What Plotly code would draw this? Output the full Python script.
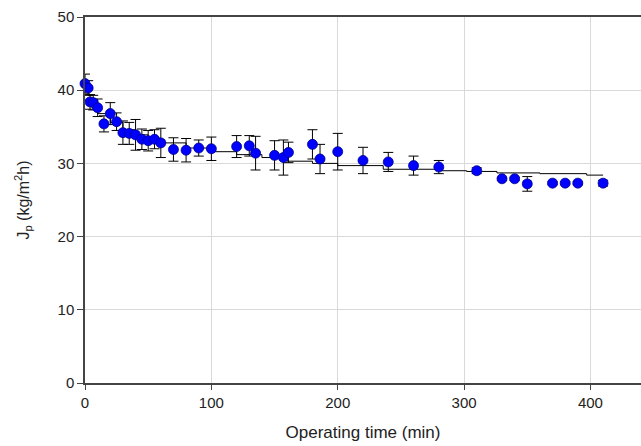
import plotly.graph_objects as go

time_min = [0, 2.5, 4, 6.5, 10, 15, 20, 25, 30, 35, 40, 45, 50, 55, 60,
            70, 80, 90, 100, 120, 130, 135, 150, 157, 161, 180, 186, 200,
            220, 240, 260, 280, 310, 330, 340, 350, 370, 380, 390, 410]
flux = [40.9, 40.3, 38.4, 38.3, 37.6, 35.4, 36.8, 35.7, 34.2, 34.1, 33.9, 33.3, 33.1, 33.3, 32.8,
        31.9, 31.8, 32.1, 32.0, 32.3, 32.4, 31.4, 31.1, 30.8, 31.5, 32.6, 30.6, 31.6,
        30.4, 30.2, 29.7, 29.5, 29.0, 27.9, 27.9, 27.2, 27.3, 27.3, 27.3, 27.3]
flux_err = [1.3, 1.0, 1.0, 1.0, 1.2, 1.1, 1.5, 1.2, 1.6, 1.5, 2.1, 1.4, 1.4, 1.3, 2.0,
            1.6, 1.6, 1.1, 1.6, 1.5, 1.4, 2.3, 2.0, 2.4, 1.4, 2.0, 2.0, 2.5,
            1.8, 1.3, 1.3, 0.9, 0.4, 0.2, 0.2, 1.0, 0.2, 0.2, 0.2, 0.4]

fit_time = [0, 10, 20, 30, 40, 50, 60, 80, 100, 120, 140, 160, 180, 200,
            236, 281, 302, 326, 360, 397, 410]
fit_flux = [38.6, 36.8, 35.6, 34.6, 33.9, 33.3, 32.8, 32.1, 31.6, 31.2, 30.8, 30.3, 30.0, 29.7,
            29.2, 29.0, 28.9, 28.7, 28.6, 28.4, 28.4]

fig = go.Figure()
fig.add_trace(go.Scatter(
    x=fit_time, y=fit_flux, mode="lines",
    line=dict(color="black", width=1, shape="hv"),
    showlegend=False, hoverinfo="skip", cliponaxis=False))
fig.add_trace(go.Scatter(
    x=time_min, y=flux, mode="markers", cliponaxis=False,
    marker=dict(color="#0000ff", size=10, line=dict(color="#00008b", width=0.8)),
    error_y=dict(type="data", array=flux_err, color="black", thickness=1, width=5),
    showlegend=False))

fig.update_layout(
    width=641, height=446,
    margin=dict(l=85, r=0, t=17, b=63),
    plot_bgcolor="white", paper_bgcolor="white",
    font=dict(family="Liberation Sans, Arial, sans-serif", color="#222222", size=15),
    xaxis=dict(
        range=[0, 440], tickvals=[0, 100, 200, 300, 400],
        showgrid=True, gridcolor="#d9d9d9", gridwidth=1,
        showline=True, linecolor="#444444", linewidth=1.5, mirror=True,
        ticks="outside", ticklen=5, tickcolor="#444444",
        zeroline=False,
        title=dict(text="Operating time (min)", font=dict(size=17, color="#222222"), standoff=16),
        tickfont=dict(size=15),
    ),
    yaxis=dict(
        range=[0, 50], tickvals=[0, 10, 20, 30, 40, 50],
        showgrid=True, gridcolor="#d9d9d9", gridwidth=1,
        showline=True, linecolor="#444444", linewidth=1.5,
        ticks="outside", ticklen=6, tickcolor="#444444",
        zeroline=False,
        title=dict(text="J<sub>p</sub> (kg/m<sup>2</sup>h)", font=dict(size=16, color="#222222"), standoff=24),
        tickfont=dict(size=15),
    ),
)

fig.write_html("out.html")
